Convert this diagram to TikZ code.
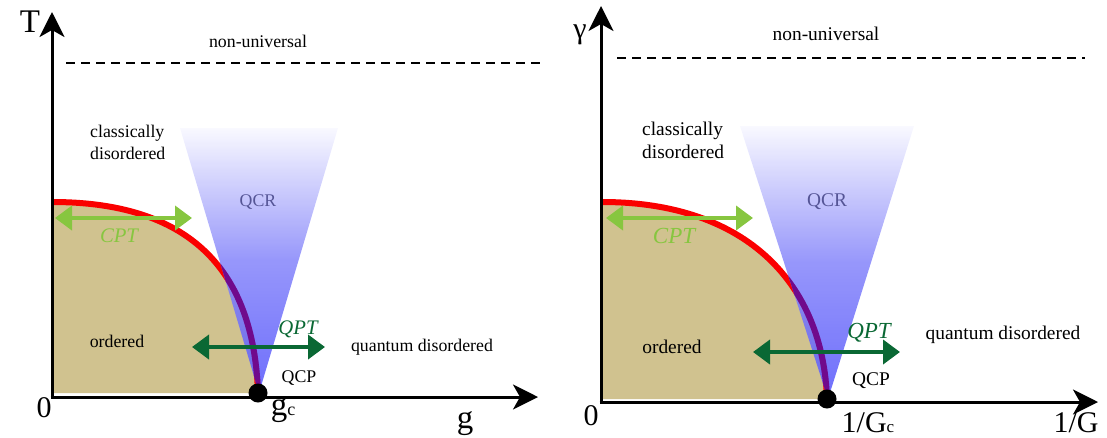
\documentclass[tikz,border=0pt]{standalone}
\usepackage{fontspec}
\setmainfont{Liberation Serif}
\usetikzlibrary{arrows.meta}
\definecolor{tanfill}{RGB}{208,194,143}
\definecolor{qred}{RGB}{250,0,0}
\definecolor{qpurple}{RGB}{112,10,140}
\definecolor{lgreen}{RGB}{135,198,64}
\definecolor{dgreen}{RGB}{10,104,52}
\definecolor{qblue}{RGB}{90,90,252}
\definecolor{qmid}{RGB}{136,136,250}
\definecolor{qtop}{RGB}{248,248,255}
\definecolor{qcrtext}{RGB}{85,85,150}
\tikzset{
  axis/.style={line width=3pt, -{Stealth[length=25pt,width=25pt,inset=7pt]}},
  dashline/.style={line width=1.3pt, dash pattern=on 9pt off 6pt},
  crit/.style={line width=6pt},
  cptarrow/.style={line width=4pt, draw=lgreen, {Triangle[length=17pt,width=24pt,fill=lgreen]}-{Triangle[length=17pt,width=24pt,fill=lgreen]}},
  qptarrow/.style={line width=4pt, draw=dgreen, {Triangle[length=17pt,width=24pt,fill=dgreen]}-{Triangle[length=17pt,width=24pt,fill=dgreen]}},
  lbl/.style={inner sep=0pt, anchor=base},
  ltxt/.style={lbl, font=\fontsize{17.8}{22}\selectfont},
  rtxt/.style={lbl, font=\fontsize{19.4}{23}\selectfont},
  lit/.style={lbl, font=\fontsize{20.7}{24}\selectfont\itshape},
  rit/.style={lbl, font=\fontsize{23}{27}\selectfont\itshape},
  lax/.style={lbl, font=\fontsize{33}{36}\selectfont},
  rax/.style={lbl, font=\fontsize{30}{34}\selectfont},
  qcpdot/.style={circle, fill=black, minimum size=19pt, inner sep=0pt},
  qcrshade/.style={top color=qtop, bottom color=qblue, middle color=qmid, fill opacity=0.88},
}
\begin{document}
\begin{tikzpicture}[x=1pt,y=-1pt]
\useasboundingbox (0,0) rectangle (1107,437);
% ================= LEFT PANEL =================
\fill[tanfill] (52,202) .. controls (198,202) and (254,278) .. (258,393) -- (52,393) -- cycle;
\draw[crit, qred] (52,202) .. controls (198,202) and (254,278) .. (258,393);
\coordinate (lt1) at (180,128);
\coordinate (lt2) at (338,128);
\coordinate (lap) at (259,393);
\shade[qcrshade] (lt1) -- (lt2) -- (lap) -- cycle;
\begin{scope}
  \clip (lt1) -- (lt2) -- (lap) -- cycle;
  \draw[crit, qpurple] (52,202) .. controls (198,202) and (254,278) .. (258,393);
\end{scope}
\node[ltxt, text=qcrtext] (lqcr) at (258,206) {QCR};
\coordinate (lcpta) at (55,218);
\coordinate (lcptb) at (192,218);
\draw[cptarrow] (lcpta) -- (lcptb);
\node[lit, text=lgreen] (lcpt) at (119,242) {CPT};
\coordinate (lqpta) at (192,347);
\coordinate (lqptb) at (325,347);
\draw[qptarrow] (lqpta) -- (lqptb);
\node[lit, text=dgreen] (lqpt) at (298,334) {QPT};
\coordinate (lda) at (66,63);
\coordinate (ldb) at (540,63);
\draw[dashline] (lda) -- (ldb);
\node[ltxt] (lnonu) at (258,47) {non-universal};
\node[ltxt, anchor=north west, align=left] (lclass) at (90,125) {classically\\disordered};
\node[ltxt] (lord) at (117,347) {ordered};
\node[ltxt] (lqd) at (422,351) {quantum disordered};
\node[ltxt] (lqcp) at (299,382) {QCP};
\coordinate (lox) at (50.5,397);
\coordinate (loy) at (52,398.5);
\coordinate (lxe) at (538,397);
\coordinate (lye) at (52,12);
\draw[axis] (lox) -- (lxe);
\draw[axis] (loy) -- (lye);
\node[qcpdot] (ldot) at (258,393) {};
\node[lax] (lT) at (30,32) {T};
\node[rax] (l0) at (44,417) {0};
\node[lax] (lgc) at (283,415) {g{\fontsize{18}{18}\selectfont c}};
\node[lax] (lg) at (465,428) {g};
% ================= RIGHT PANEL =================
\fill[tanfill] (602,202) .. controls (748,202) and (823,285) .. (827,399) -- (602,399) -- cycle;
\draw[crit, qred] (602,202) .. controls (748,202) and (823,285) .. (827,399);
\coordinate (rt1) at (740,126);
\coordinate (rt2) at (914,126);
\coordinate (rap) at (828,399);
\shade[qcrshade] (rt1) -- (rt2) -- (rap) -- cycle;
\begin{scope}
  \clip (rt1) -- (rt2) -- (rap) -- cycle;
  \draw[crit, qpurple] (602,202) .. controls (748,202) and (823,285) .. (827,399);
\end{scope}
\node[rtxt, text=qcrtext] (rqcr) at (827,206) {QCR};
\coordinate (rcpta) at (606,218);
\coordinate (rcptb) at (753,218);
\draw[cptarrow] (rcpta) -- (rcptb);
\node[rit, text=lgreen] (rcpt) at (674,243) {CPT};
\coordinate (rqpta) at (753,352);
\coordinate (rqptb) at (900,352);
\draw[qptarrow] (rqpta) -- (rqptb);
\node[rit, text=dgreen] (rqpt) at (869,338) {QPT};
\coordinate (rda) at (617,58);
\coordinate (rdb) at (1085,58);
\draw[dashline] (rda) -- (rdb);
\node[rtxt] (rnonu) at (826,40) {non-universal};
\node[rtxt, anchor=north west, align=left] (rclass) at (642,122) {classically\\disordered};
\node[rtxt] (rord) at (672,353) {ordered};
\node[rtxt] (rqd) at (1003,339) {quantum disordered};
\node[rtxt] (rqcp) at (871,385) {QCP};
\coordinate (rox) at (599.5,402);
\coordinate (roy) at (601,403.5);
\coordinate (rxe) at (1098,402);
\coordinate (rye) at (601,6);
\draw[axis] (rox) -- (rxe);
\draw[axis] (roy) -- (rye);
\node[qcpdot] (rdot) at (827,399) {};
\node[rax] (rgam) at (580,38) {γ};
\node[rax] (r0) at (591,425) {0};
\node[rax] (rgc) at (868,432) {1/G{\fontsize{17}{17}\selectfont c}};
\node[rax] (rG) at (1076,432) {1/G};
\end{tikzpicture}
\end{document}
